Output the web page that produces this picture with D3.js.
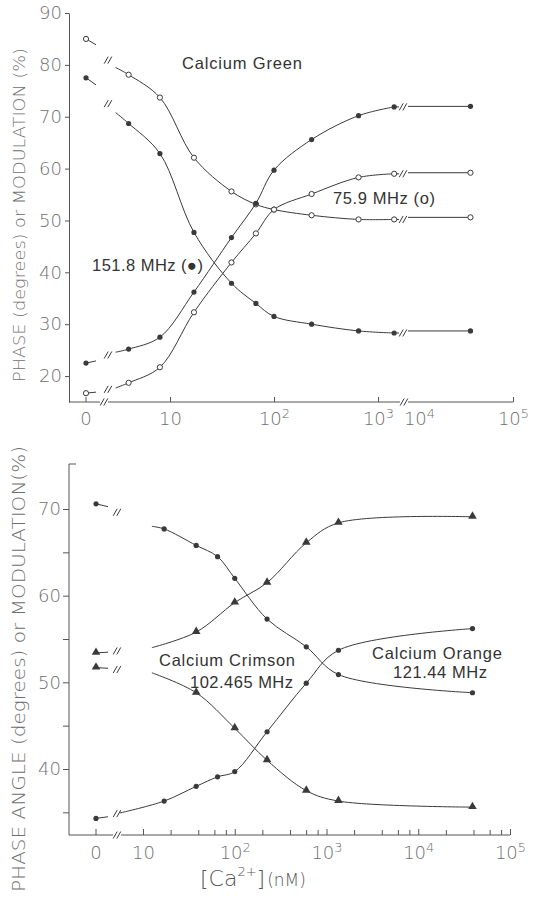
<!DOCTYPE html>
<html><head><meta charset="utf-8">
<script src="https://cdn.jsdelivr.net/npm/d3@7/dist/d3.min.js"></script>
<style>body{margin:0;background:#fff}svg{display:block}</style>
</head><body>
<svg id="c" width="533" height="900"></svg>
<script>
// ================= DATA =================
// Top panel: Calcium Green (x = free [Ca2+], nM; 0 = zero-calcium point)
const topConc = [0, 4, 8, 17, 39, 67, 100, 230, 650, 1430, 39000];
const topCurveStartConc = 3;
const greenMod75   = [85.0, 78.1, 73.7, 62.1, 55.6, 53.1, 52.1, 51.0, 50.2, 50.2, 50.6]; // open circles
const greenMod151  = [77.5, 68.7, 62.9, 47.7, 37.9, 34.0, 31.5, 30.0, 28.7, 28.3, 28.7]; // filled circles
const greenPh151   = [22.5, 25.2, 27.5, 36.2, 46.7, 53.3, 59.7, 65.6, 70.2, 71.9, 72.0]; // filled circles
const greenPh75    = [16.7, 18.7, 21.7, 32.3, 41.9, 47.5, 52.1, 55.1, 58.3, 59.0, 59.2]; // open circles
const greenCurveStart = [79.5, 70.8, 24.6, 17.7];
const topYTicks = [20, 30, 40, 50, 60, 70, 80, 90];

// Bottom panel: Calcium Crimson / Calcium Orange
const botCircleConc = [0, 17, 38, 65, 100, 225, 602, 1350, 39000];
const botTriConc    = [0, 38, 100, 225, 602, 1350, 39000];
const circDown = [70.6, 67.7, 65.8, 64.5, 62.0, 57.3, 54.1, 50.9, 48.8];
const circUp   = [34.3, 36.3, 38.0, 39.1, 39.7, 44.3, 49.9, 53.7, 56.2];
const triUp    = [53.4, 55.8, 59.2, 61.5, 66.1, 68.4, 69.1];
const triDown  = [51.7, 48.8, 44.7, 41.0, 37.5, 36.3, 35.6];
const botCurveStartConc = [12.5, 6, 12.5, 12.5];      // circDown, circUp, triUp, triDown
const botCurveStart     = [68.0, 35.0, 54.0, 51.1];
const botYMajor = [40, 50, 60, 70];
const botYMinor = [35, 45, 55, 65];
const botXMajor = [10, 100, 1000, 10000, 100000];
const botXMinor = [20, 40, 60, 80, 200, 400, 600, 800, 2000, 4000, 6000, 8000, 20000, 40000, 60000, 80000];

// ================= DRAW =================
const svg = d3.select('#c');
const INK = '#3a3a3a', AX = '#555', LBL = '#6e6e6e';
const tickFont = 'DejaVu Sans';

function supLabel(sel, d) {
  const e = Math.round(Math.log10(d));
  sel.text('');
  sel.append('tspan').text('10');
  if (e > 1) sel.append('tspan').attr('dy', '-0.5em').attr('font-size', '0.72em').text(e);
}
function brk(g, x, y, gap) {
  if (gap) g.append('rect').attr('x', x - 4).attr('y', y - 3).attr('width', 8).attr('height', 6).attr('fill', '#fff');
  [-1.8, 1.8].forEach(o => g.append('line')
    .attr('x1', x + o - 2).attr('y1', y + 3.5).attr('x2', x + o + 2).attr('y2', y - 3.5)
    .attr('stroke', INK).attr('stroke-width', 1));
}
function marker(g, x, y, kind) {
  if (kind === 'open') g.append('circle').attr('cx', x).attr('cy', y).attr('r', 2.6).attr('fill', '#fff').attr('stroke', INK).attr('stroke-width', 1);
  else if (kind === 'fill') g.append('circle').attr('cx', x).attr('cy', y).attr('r', 2.6).attr('fill', INK);
  else g.append('path').attr('d', d3.symbol(d3.symbolTriangle).size(32)()).attr('transform', `translate(${x},${y - 0.5})`).attr('fill', INK);
}
const lineTop = d3.line().curve(d3.curveCatmullRom.alpha(0.5));
const lineBot = d3.line().curve(d3.curveCatmullRom.alpha(0.5));

// ---------- TOP PANEL ----------
const xTA = d3.scaleLog().domain([10, 1000]).range([170, 378]);
const xTB = d3.scaleLog().domain([1e4, 1e5]).range([409, 513]);
const X0T = 86, AXL = 69;
const xT = c => c === 0 ? X0T : (c < 5000 ? xTA(c) : xTB(c));
const yT = d3.scaleLinear().domain([15, 90]).range([402, 13]);

const gT = svg.append('g');
const yAxT = gT.append('g').attr('transform', `translate(${AXL},0)`)
  .call(d3.axisLeft(yT).tickValues(topYTicks).tickSize(4).tickSizeOuter(0).tickPadding(3));
yAxT.select('.domain').attr('stroke', AX);
yAxT.selectAll('.tick line').attr('stroke', AX);
yAxT.selectAll('text').attr('font-family', tickFont).attr('font-size', 18).attr('fill', LBL).attr('font-weight', 200);

gT.append('line').attr('x1', AXL).attr('x2', 513).attr('y1', yT(15)).attr('y2', yT(15)).attr('stroke', AX);
const xAxTA = gT.append('g').attr('transform', `translate(0,${yT(15)})`)
  .call(d3.axisBottom(xTA).tickValues([10, 100, 1000]).tickSize(-5).tickSizeOuter(0).tickPadding(10));
const xAxTB = gT.append('g').attr('transform', `translate(0,${yT(15)})`)
  .call(d3.axisBottom(xTB).tickValues([1e4, 1e5]).tickSize(-5).tickSizeOuter(0).tickPadding(10));
[xAxTA, xAxTB].forEach(a => {
  a.select('.domain').remove();
  a.selectAll('.tick line').attr('stroke', AX);
  a.selectAll('text').attr('font-family', tickFont).attr('font-size', 18).attr('fill', LBL).attr('font-weight', 200)
    .each(function (d) { supLabel(d3.select(this), d); });
});
xAxTB.selectAll('.tick').filter(d => d === 1e4).select('line').remove();
xAxTB.selectAll('.tick').filter(d => d === 1e4).select('text').attr('dx', 10);
gT.append('line').attr('x1', X0T).attr('x2', X0T).attr('y1', yT(15)).attr('y2', yT(15) - 5).attr('stroke', AX);
gT.append('text').attr('x', X0T).attr('y', yT(15) + 10).attr('dy', '0.71em').attr('text-anchor', 'middle')
  .attr('font-family', tickFont).attr('font-size', 18).attr('fill', LBL).attr('font-weight', 200).text('0');
brk(gT, 104, yT(15), true);
brk(gT, 404, yT(15), true);

gT.append('text').attr('transform', `translate(25,215) rotate(-90)`).attr('text-anchor', 'middle')
  .attr('font-family', tickFont).attr('font-size', 15.5).attr('font-weight', 200).attr('fill', LBL)
  .attr('textLength', 334).attr('lengthAdjust', 'spacingAndGlyphs')
  .text('PHASE (degrees) or MODULATION (%)');

const topSeries = [
  { v: greenMod75, kind: 'open' }, { v: greenMod151, kind: 'fill' },
  { v: greenPh151, kind: 'fill' }, { v: greenPh75, kind: 'open' }];
topSeries.forEach((s, i) => {
  const n = topConc.length;
  const sx = xT(topCurveStartConc), sy = yT(greenCurveStart[i]);
  const pts = [[sx, sy]];
  for (let k = 1; k < n - 1; k++) pts.push([xT(topConc[k]), yT(s.v[k])]);
  gT.append('path').attr('d', lineTop(pts)).attr('fill', 'none').attr('stroke', INK).attr('stroke-width', 1);
  const lp = pts[pts.length - 1];
  gT.append('line').attr('x1', lp[0]).attr('y1', lp[1]).attr('x2', 399).attr('y2', lp[1]).attr('stroke', INK);
  brk(gT, 403, lp[1], false);
  const fx = xT(topConc[n - 1]), fy = yT(s.v[n - 1]);
  gT.append('line').attr('x1', xTB(1e4) - 1).attr('y1', fy).attr('x2', fx).attr('y2', fy).attr('stroke', INK);
  const zx = xT(0), zy = yT(s.v[0]);
  const t = 10 / (sx - zx);
  gT.append('line').attr('x1', zx).attr('y1', zy).attr('x2', zx + 10).attr('y2', zy + (sy - zy) * t * 0.6).attr('stroke', INK);
  const bx = 108;
  brk(gT, bx, zy + (sy - zy) * (bx - zx) / (sx - zx), false);
  for (let k = 0; k < n; k++) marker(gT, xT(topConc[k]), yT(s.v[k]), s.kind);
});

const annoFont = 'Liberation Sans';
gT.append('text').attr('x', 182).attr('y', 69).attr('font-family', annoFont).attr('font-size', 16.5).attr('fill', '#333')
  .attr('textLength', 120).text('Calcium Green');
gT.append('text').attr('x', 333).attr('y', 204).attr('font-family', annoFont).attr('font-size', 16.5).attr('fill', '#333')
  .attr('textLength', 102).text('75.9 MHz (o)');
gT.append('text').attr('x', 92).attr('y', 271).attr('font-family', annoFont).attr('font-size', 16.5).attr('fill', '#333')
  .attr('textLength', 111).text('151.8 MHz (●)');

// ---------- BOTTOM PANEL ----------
const xB = d3.scaleLog().domain([10, 1e5]).range([143, 510]);
const X0B = 96;
const xBf = c => c === 0 ? X0B : xB(c);
const yB = d3.scaleLinear().domain([40, 70]).range([769, 509]);
const yTopB = 464, yBotB = 835;
const gB = svg.append('g');

gB.append('line').attr('x1', AXL).attr('x2', AXL).attr('y1', yTopB).attr('y2', yBotB).attr('stroke', AX);
gB.append('line').attr('x1', AXL).attr('x2', AXL + 7).attr('y1', yTopB).attr('y2', yTopB).attr('stroke', AX);
const yAxB = gB.append('g').attr('transform', `translate(${AXL},0)`)
  .call(d3.axisLeft(yB).tickValues(botYMajor.concat(botYMinor)).tickSize(6).tickSizeOuter(0).tickPadding(2)
    .tickFormat(d => botYMajor.includes(d) ? d : ''));
yAxB.select('.domain').remove();
yAxB.selectAll('.tick line').attr('stroke', AX);
yAxB.selectAll('text').attr('font-family', tickFont).attr('font-size', 18).attr('fill', LBL).attr('font-weight', 200);

gB.append('line').attr('x1', AXL).attr('x2', 510).attr('y1', yBotB).attr('y2', yBotB).attr('stroke', AX);
const xAxB = gB.append('g').attr('transform', `translate(0,${yBotB})`)
  .call(d3.axisBottom(xB).tickValues(botXMajor).tickSize(-6).tickSizeOuter(0).tickPadding(11));
xAxB.select('.domain').remove();
xAxB.selectAll('.tick line').attr('stroke', AX);
xAxB.selectAll('text').attr('font-family', tickFont).attr('font-size', 18).attr('fill', LBL).attr('font-weight', 200)
  .each(function (d) { supLabel(d3.select(this), d); });
const xAxBm = gB.append('g').attr('transform', `translate(0,${yBotB})`)
  .call(d3.axisBottom(xB).tickValues(botXMinor).tickSize(-5).tickSizeOuter(0).tickFormat(''));
xAxBm.select('.domain').remove();
xAxBm.selectAll('.tick line').attr('stroke', AX);
gB.append('line').attr('x1', X0B).attr('x2', X0B).attr('y1', yBotB).attr('y2', yBotB - 6).attr('stroke', AX);
gB.append('text').attr('x', X0B).attr('y', yBotB + 11).attr('dy', '0.71em').attr('text-anchor', 'middle')
  .attr('font-family', tickFont).attr('font-size', 18).attr('fill', LBL).attr('font-weight', 200).text('0');
brk(gB, 117, yBotB, true);

gB.append('text').attr('transform', `translate(25,669) rotate(-90)`).attr('text-anchor', 'middle')
  .attr('font-family', tickFont).attr('font-size', 17.5).attr('font-weight', 200).attr('fill', LBL)
  .attr('textLength', 446).attr('lengthAdjust', 'spacingAndGlyphs')
  .text('PHASE ANGLE (degrees) or MODULATION(%)');

const xl = gB.append('text').attr('x', 200).attr('y', 886).attr('font-family', tickFont).attr('font-weight', 200).attr('fill', '#555');
xl.append('tspan').attr('font-size', 22).text('[Ca');
xl.append('tspan').attr('font-size', 13).attr('dy', -10).text('2+');
xl.append('tspan').attr('font-size', 22).attr('dy', 10).text(']');
xl.append('tspan').attr('font-size', 17).attr('dx', 2).text('(nM)');

const botSeries = [
  { c: botCircleConc, v: circDown, kind: 'fill' },
  { c: botCircleConc, v: circUp, kind: 'fill' },
  { c: botTriConc, v: triUp, kind: 'tri' },
  { c: botTriConc, v: triDown, kind: 'tri' }];
botSeries.forEach((s, i) => {
  const sx = xB(botCurveStartConc[i]), sy = yB(botCurveStart[i]);
  const pts = [[sx, sy]];
  for (let k = 1; k < s.c.length; k++) pts.push([xB(s.c[k]), yB(s.v[k])]);
  gB.append('path').attr('d', lineBot(pts)).attr('fill', 'none').attr('stroke', INK).attr('stroke-width', 1);
  const zx = X0B, zy = yB(s.v[0]);
  const slope = (sy - zy) / (sx - zx);
  gB.append('line').attr('x1', zx).attr('y1', zy).attr('x2', zx + 12).attr('y2', zy + slope * 12 * 0.6).attr('stroke', INK);
  const bx = 117;
  const by = zy + slope * (bx - zx);
  brk(gB, bx, by, false);
  if (sx - bx < 12) gB.append('line').attr('x1', bx + 3).attr('y1', zy + slope * (bx + 3 - zx)).attr('x2', sx).attr('y2', sy).attr('stroke', INK);
  for (let k = 0; k < s.c.length; k++) marker(gB, xBf(s.c[k]), yB(s.v[k]), s.kind);
});

gB.append('text').attr('x', 159).attr('y', 666).attr('font-family', annoFont).attr('font-size', 16.5).attr('fill', '#333')
  .attr('textLength', 136).text('Calcium Crimson');
gB.append('text').attr('x', 190).attr('y', 688).attr('font-family', annoFont).attr('font-size', 16.5).attr('fill', '#333')
  .attr('textLength', 103).text('102.465 MHz');
gB.append('text').attr('x', 372).attr('y', 659).attr('font-family', annoFont).attr('font-size', 16.5).attr('fill', '#333')
  .attr('textLength', 130).text('Calcium Orange');
gB.append('text').attr('x', 393).attr('y', 678).attr('font-family', annoFont).attr('font-size', 16.5).attr('fill', '#333')
  .attr('textLength', 94).text('121.44 MHz');
</script>
</body></html>
